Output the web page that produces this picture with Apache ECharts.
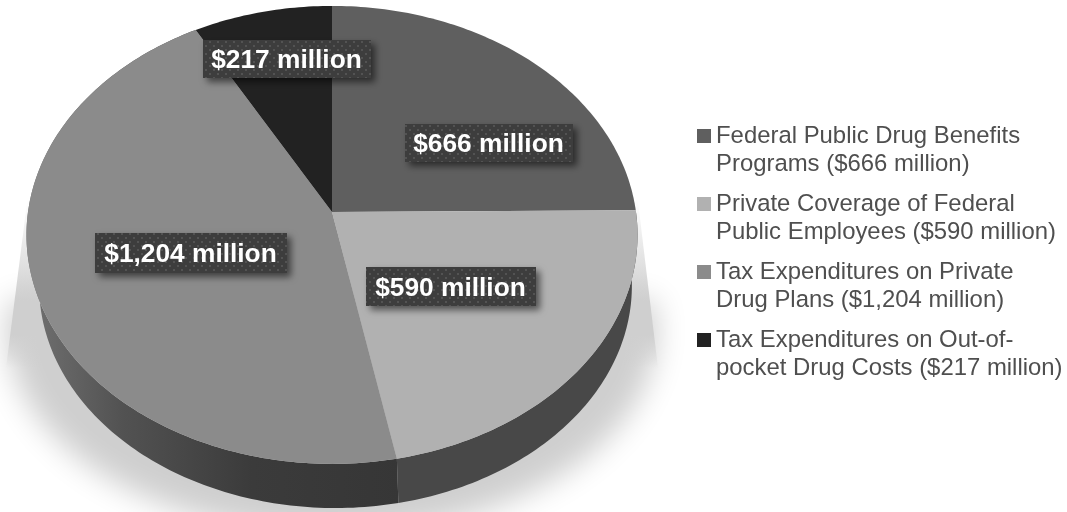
<!DOCTYPE html>
<html>
<head>
<meta charset="utf-8">
<style>html,body{margin:0;padding:0;background:#fff}#c{width:1067px;height:512px}</style>
<script src="https://cdn.jsdelivr.net/npm/echarts@6/dist/echarts.min.js"></script>
</head>
<body>
<div id="c"></div>
<script>
const legendNames = [
  'Federal Public Drug Benefits\nPrograms ($666 million)',
  'Private Coverage of Federal\nPublic Employees ($590 million)',
  'Tax Expenditures on Private\nDrug Plans ($1,204 million)',
  'Tax Expenditures on Out-of-\npocket Drug Costs ($217 million)'
];
const values = [666, 590, 1204, 217];
const labels = ['$666 million', '$590 million', '$1,204 million', '$217 million'];

const faceColors = ['#5f5f5f', '#b1b1b1', '#8b8b8b', '#222222'];
const labelBoxes = [[405,124,168,38],[366,267,170,39],[95,233,192,40],[203,40,168,38]];
const wallFills = [null, '#484848', {type:'linear',global:true,x:30,y:0,x2:400,y2:0,colorStops:[
  {offset:0,color:'#707070'},{offset:.25,color:'#525252'},{offset:.6,color:'#3b3b3b'},{offset:1,color:'#363636'}]}, null];

const total = values.reduce((a,b)=>a+b,0);
const PERSP = 0.1, RX = 304, RY = 226.7;
function rim(deg, s, x0, y0) {
  const t = deg*Math.PI/180, u = Math.sin(t), v = -Math.cos(t), w = 1 - PERSP*v;
  return [x0 + s*RX*u/w, y0 + s*RY*v/w];
}
function arc(a, b, s, x0, y0) {
  const n = Math.max(2, Math.ceil(Math.abs(b-a))), out = [];
  for (let i=0;i<=n;i++) out.push(rim(a+(b-a)*i/n, s, x0, y0));
  return out;
}
function dotTile() {
  const c = document.createElement('canvas'); c.width = 8; c.height = 8;
  const g = c.getContext('2d');
  g.fillStyle = '#3d3d3d'; g.fillRect(0,0,8,8);
  g.fillStyle = '#535353';
  g.fillRect(1,1,2,2); g.fillRect(5,5,2,2);
  return c;
}
const tile = dotTile();
const FONT = '"Liberation Sans", Arial, sans-serif';

const OFF = 3000;
function castOutline() {
  const pts = [[9-OFF,300]];
  for (let d=180;d>=0;d-=3) {
    const t = d*Math.PI/180;
    pts.push([332-OFF+325*Math.cos(t), 330+204*Math.sin(t)]);
  }
  pts.push([655-OFF,300]);
  return pts;
}

const series = values.map((val, idx) => ({
  type: 'custom',
  name: legendNames[idx],
  coordinateSystem: 'none',
  itemStyle: {color: faceColors[idx]},
  data: [[val]],
  silent: true,
  renderItem: (params, api) => {
    const before = values.slice(0, idx).reduce((a,b)=>a+b,0);
    const a = before/total*360, b = (before+api.value(0))/total*360;
    const kids = [];
    if (wallFills[idx]) {
      const pts = arc(a,b,1,332,212).concat(arc(b,a,0.97,335.5,263.7));
      kids.push({type:'polygon', z2:1, shape:{points:pts}, style:{fill:wallFills[idx]}});
    }
    kids.push({type:'polygon', z2:2, shape:{points:[[332,212]].concat(arc(a,b,1,332,212))},
      style:{fill:faceColors[idx]}});
    const box = labelBoxes[idx];
    kids.push({type:'rect', z2:3, shape:{x:box[0],y:box[1],width:box[2],height:box[3]},
      style:{fill:{image:tile,repeat:'repeat'},shadowBlur:7,shadowOffsetX:4,shadowOffsetY:4,shadowColor:'rgba(0,0,0,0.55)'}});
    kids.push({type:'text', z2:4, x:box[0]+box[2]/2-0.5, y:box[1]+box[3]/2+2,
      style:{text:labels[idx], fill:'#fff', font:'bold 26.3px '+FONT, align:'center', verticalAlign:'middle'}});
    return {type:'group', children:kids};
  }
}));

const chart = echarts.init(document.getElementById('c'), null, {width:1067,height:512});
chart.setOption({
  animation: false,
  backgroundColor: '#ffffff',
  legend: {
    orient: 'vertical', left: 695, top: 122, padding: 0, itemGap: 12,
    itemWidth: 16, itemHeight: 56, selectedMode: false,
    icon: 'path://M2 7L16 7L16 21L2 21Z M0 0L0 0 M0 56L0 56',
    data: legendNames,
    textStyle: {color:'#4f4f4f', fontFamily:FONT, fontSize:23.9, lineHeight:28}
  },
  graphic: [
    {type:'polygon', z:1, silent:true, shape:{points:castOutline()},
      style:{fill:'#cfcfcf',shadowColor:'#cfcfcf',shadowBlur:30,shadowOffsetX:OFF}},
    {type:'polygon', z:1, silent:true, shape:{points:[[28,195],[636,185],[658,368],[6,368]]},
      style:{fill:{type:'linear',global:true,x:0,y:200,x2:0,y2:368,colorStops:[
        {offset:0,color:'rgba(207,207,207,0)'},{offset:.6,color:'rgba(207,207,207,1)'},
        {offset:.8,color:'rgba(207,207,207,1)'},{offset:1,color:'rgba(207,207,207,0)'}]}}}
  ],
  series
});
</script>
</body>
</html>
